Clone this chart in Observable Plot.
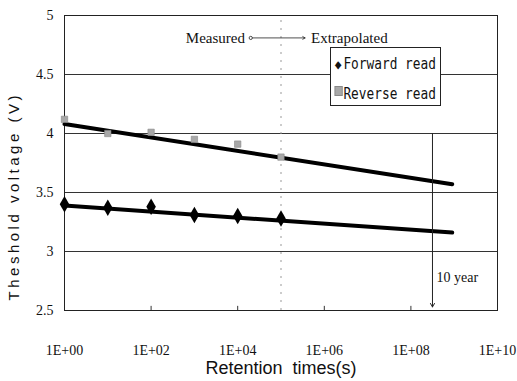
<!DOCTYPE html>
<html>
<head>
<meta charset="utf-8">
<script src="https://cdn.jsdelivr.net/npm/d3@7"></script>
<script src="https://cdn.jsdelivr.net/npm/@observablehq/plot@0.6"></script>
<style>
  html, body { margin: 0; padding: 0; background: #fff; }
  #wrap { position: relative; width: 517px; height: 381px; }
  .ylab text { letter-spacing: 3.5px; }
  #legend {
    position: absolute; left: 330px; top: 47px; width: 111px; height: 59px;
    border: 1px solid #222; background: #fff; box-sizing: border-box;
    font-family: "DejaVu Sans Mono", "Liberation Mono", monospace; font-size: 16px; color: #111;
  }
  #legend .row { position: absolute; left: 2px; line-height: 18px; white-space: nowrap; transform: scaleX(0.8); transform-origin: left center; }
  #legend .sym { display: inline-block; width: 13px; text-align: center; }
</style>
</head>
<body>
<div id="wrap"></div>
<script>
// ---- data ----
const times = [1, 10, 100, 1000, 10000, 100000];
const forwardRead = [3.40, 3.37, 3.38, 3.31, 3.30, 3.28];
const reverseRead = [4.12, 4.00, 4.01, 3.95, 3.91, 3.80];
const fitTimes = [1, 9e8];
const forwardFit = [3.39, 3.16];
const reverseFit = [4.08, 3.57];
const xTicks = [1, 1e2, 1e4, 1e6, 1e8, 1e10];
const yTicks = [2.5, 3, 3.5, 4, 4.5, 5];
const gridY = [3, 3.5, 4, 4.5];
const tenYears = 3.15e8;
const measuredBoundary = 1e5;
const seriesNames = ["Forward read", "Reverse read"];

const fwd = times.map((t, i) => ({t, v: forwardRead[i]}));
const rev = times.map((t, i) => ({t, v: reverseRead[i]}));
const fwdFit = fitTimes.map((t, i) => ({t, v: forwardFit[i]}));
const revFit = fitTimes.map((t, i) => ({t, v: reverseFit[i]}));

const fmtX = d => "1E+" + String(Math.round(Math.log10(d))).padStart(2, "0");

const serif = "'Liberation Serif', 'Times New Roman', serif";
const sans = "'Liberation Sans', Arial, sans-serif";

const chart = Plot.plot({
  width: 517, height: 381,
  marginLeft: 64, marginRight: 20, marginTop: 15, marginBottom: 71,
  style: {fontFamily: serif, fontSize: "14px", color: "#111", background: "#fff"},
  x: {type: "log", domain: [1, 1e10]},
  y: {domain: [2.5, 5]},
  marks: [
    Plot.ruleY(gridY, {stroke: "#333", strokeWidth: 1}),
    Plot.ruleX([measuredBoundary], {y1: 2.5, y2: 5, stroke: "#999", strokeDasharray: "2,6", strokeWidth: 1}),
    Plot.ruleX(xTicks.slice(1, -1), {y1: 2.5, y2: 2.535, stroke: "#333"}),
    Plot.frame({stroke: "#222", strokeWidth: 1}),
    Plot.axisX({ticks: xTicks, tickFormat: fmtX, tickSize: 0, tickPadding: 35, label: null, fontSize: 14}),
    Plot.axisY({ticks: yTicks, tickFormat: d => String(d), tickSize: 0, tickPadding: 11, label: null, fontSize: 14}),
    // fitted / extrapolated lines
    Plot.line(fwdFit, {x: "t", y: "v", stroke: "#000", strokeWidth: 4}),
    Plot.line(revFit, {x: "t", y: "v", stroke: "#000", strokeWidth: 4}),
    // measured points
    Plot.dot(rev, {x: "t", y: "v", symbol: "square", r: 3.6, fill: "#a8a8a8", stroke: "#888", strokeWidth: 0.6}),
    Plot.dot(fwd, {x: "t", y: "v", symbol: "diamond", r: 5, fill: "#000"}),
    // 10 year marker
    Plot.arrow([{x: tenYears}], {x1: "x", x2: "x", y1: 4, y2: 2.53, stroke: "#222", strokeWidth: 1, headLength: 6, bend: 0}),
    Plot.text(["10 year"], {x: tenYears, y: 2.78, dx: 4, textAnchor: "start", fontSize: 14, fontFamily: serif}),
    // measured / extrapolated annotation
    Plot.text(["Measured"], {x: measuredBoundary, y: 4.81, dx: -36, textAnchor: "end", fontSize: 15, fontFamily: serif}),
    Plot.text(["Extrapolated"], {x: measuredBoundary, y: 4.81, dx: 30, textAnchor: "start", fontSize: 15, fontFamily: serif}),
    Plot.arrow([{a: 2e4, b: 3.6e5}], {x1: "a", x2: "b", y1: 4.81, y2: 4.81, stroke: "#222", strokeWidth: 0.8, headLength: 5, bend: 0}),
    Plot.dot([{a: 2e4}], {x: "a", y: 4.81, r: 1.6, fill: "#fff", stroke: "#222", strokeWidth: 0.8}),
    // axis titles
    Plot.text(["Retention  times(s)"], {frameAnchor: "bottom", dy: 63, fontFamily: sans, fontSize: 18, fill: "#111"}),
    Plot.text(["Theshold voltage (V)"], {x: 1, y: 2.585, dx: -50, rotate: -90, textAnchor: "start", fontFamily: sans, fontSize: 15, fill: "#111", className: "ylab"})
  ]
});

const wrap = document.getElementById("wrap");
wrap.appendChild(chart);

const legend = document.createElement("div");
legend.id = "legend";
legend.innerHTML =
  `<div class="row" style="top:7px"><span class="sym" style="font-size:14px">&#9670;</span>${seriesNames[0]}</div>` +
  `<div class="row" style="top:37px"><span class="sym"><span style="display:inline-block;width:8px;height:8px;background:#a8a8a8;border:1px solid #888;position:relative;top:-3px"></span></span>${seriesNames[1]}</div>`;
wrap.appendChild(legend);
</script>
</body>
</html>
